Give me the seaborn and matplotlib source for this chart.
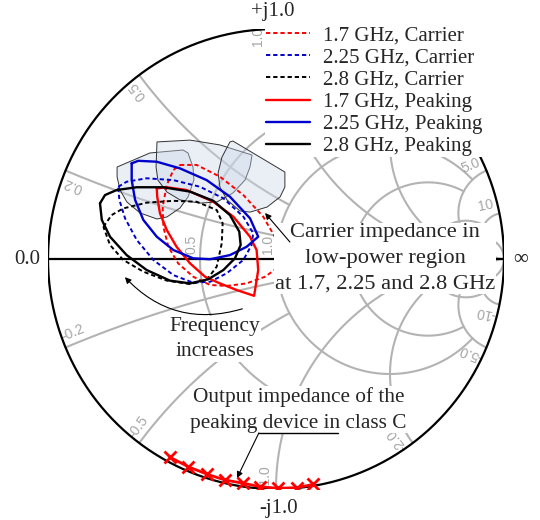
import numpy as np
import pandas as pd
import matplotlib
matplotlib.use('Agg')
import matplotlib.pyplot as plt
import seaborn as sns
from matplotlib.patches import FancyArrowPatch
from matplotlib.lines import Line2D

carrier_17_re = [-0.421, -0.348, -0.246, -0.143, -0.056, 0.003, 0.018, 0.014, -0.048, -0.129,
                 -0.216, -0.289, -0.363, -0.429, -0.472, -0.494, -0.497, -0.479, -0.450]
carrier_17_im = [0.409, 0.409, 0.358, 0.278, 0.184, 0.083, 0.010, -0.033, -0.077, -0.106,
                 -0.117, -0.113, -0.077, -0.019, 0.053, 0.140, 0.227, 0.322, 0.387]

carrier_225_re = [-0.692, -0.655, -0.567, -0.450, -0.333, -0.231, -0.143, -0.100, -0.107, -0.143,
                  -0.216, -0.289, -0.363, -0.450, -0.538, -0.611, -0.662, -0.687]
carrier_225_im = [0.314, 0.336, 0.351, 0.343, 0.314, 0.264, 0.184, 0.112, 0.061, -0.004,
                  -0.062, -0.099, -0.103, -0.070, -0.004, 0.083, 0.177, 0.257]

carrier_28_re = [-0.757, -0.721, -0.670, -0.567, -0.450, -0.348, -0.260, -0.234, -0.238, -0.260,
                 -0.304, -0.377, -0.479, -0.582, -0.670, -0.728]
carrier_28_im = [0.140, 0.191, 0.220, 0.245, 0.253, 0.249, 0.213, 0.155, 0.068, -0.033,
                 -0.091, -0.109, -0.094, -0.055, -0.004, 0.061]

peak_17_re = [-0.523, -0.479, -0.392, -0.275, -0.187, -0.114, -0.085, -0.078, -0.096, -0.172,
              -0.246, -0.311, -0.377, -0.436, -0.479, -0.509, -0.521]
peak_17_im = [0.307, 0.312, 0.300, 0.249, 0.184, 0.097, 0.039, -0.048, -0.160, -0.135,
              -0.106, -0.077, -0.019, 0.053, 0.126, 0.199, 0.271]

peak_225_re = [-0.633, -0.604, -0.523, -0.421, -0.304, -0.202, -0.114, -0.078, -0.129, -0.202,
               -0.289, -0.363, -0.450, -0.523, -0.582, -0.618, -0.633]
peak_225_im = [0.416, 0.427, 0.423, 0.394, 0.343, 0.271, 0.177, 0.097, 0.053, 0.017,
               -0.001, 0.003, 0.039, 0.097, 0.170, 0.257, 0.343]

peak_28_re = [-0.772, -0.750, -0.699, -0.611, -0.494, -0.377, -0.275, -0.202, -0.161, -0.155,
              -0.180, -0.231, -0.297, -0.377, -0.465, -0.567, -0.655, -0.728, -0.764]
peak_28_im = [0.242, 0.278, 0.300, 0.312, 0.312, 0.293, 0.253, 0.191, 0.119, 0.061,
              0.003, -0.048, -0.088, -0.106, -0.094, -0.048, 0.017, 0.097, 0.170]

# low-power carrier impedance regions (1.7, 2.25, 2.8 GHz)
region_a_re = [-0.697, -0.553, -0.408, -0.386, -0.364, -0.360, -0.386, -0.421, -0.478, -0.522,
               -0.596, -0.654, -0.684, -0.697]
region_a_im = [0.400, 0.461, 0.474, 0.461, 0.400, 0.343, 0.270, 0.222, 0.183, 0.174,
               0.200, 0.248, 0.300, 0.357]
region_b_re = [-0.522, -0.377, -0.246, -0.105, -0.114, -0.136, -0.189, -0.259, -0.333, -0.421,
               -0.478, -0.518, -0.526]
region_b_im = [0.509, 0.517, 0.496, 0.452, 0.400, 0.343, 0.287, 0.248, 0.243, 0.257,
               0.291, 0.343, 0.400]
region_c_re = [-0.202, -0.189, -0.101, -0.013, 0.039, 0.039, 0.018, -0.039, -0.114, -0.158,
               -0.215, -0.246, -0.254, -0.237]
region_c_im = [0.509, 0.513, 0.461, 0.409, 0.378, 0.313, 0.270, 0.226, 0.204, 0.209,
               0.257, 0.313, 0.374, 0.443]

# output impedance of the peaking device in class C
classc_re = [-0.465, -0.385, -0.304, -0.224, -0.143, -0.070, 0.010, 0.091, 0.164]
classc_im = [-0.862, -0.903, -0.935, -0.961, -0.975, -0.990, -0.997, -0.994, -0.980]

legend_labels = ['1.7 GHz, Carrier', '2.25 GHz, Carrier', '2.8 GHz, Carrier',
                 '1.7 GHz, Peaking', '2.25 GHz, Peaking', '2.8 GHz, Peaking']

# smith grid: value and how far the arc runs
r_circles = [0.5, 1, 2, 5, 10]
r_limits = [2, 5, 5, 10, np.inf]
r_labelled = [0.5, 1]
x_arcs = [0.2, 0.5, 1, 2, 5, 10]
x_limits = [2, 1, 5, 5, 10, np.inf]
x_labelled = [0.2, 0.5, 1, 5, 10, -0.2, -0.5, -1, -2, -5, -10]


def gam(z):
    return (z - 1) / (z + 1)


def fmt(v):
    return '10' if abs(v) >= 10 else f'{abs(v):.1f}'


def smith_grid(ax):
    grey = '#b3b3b3'
    lab = dict(color='#a6a6a6', fontsize=10, family='Liberation Sans', zorder=1,
               ha='center', va='center')
    for r, lim in zip(r_circles, r_limits):
        a = np.arctan(lim) if np.isfinite(lim) else np.pi / 2 - 1e-4
        g = gam(r + 1j * np.tan(np.linspace(-a, a, 600)))
        ax.plot(g.real, g.imag, color=grey, lw=1.5, zorder=1)
        if r in r_labelled:
            ax.text((r - 1) / (r + 1) - 0.036, 0.062, fmt(r), rotation=90, **lab)
    for x, lim in zip(x_arcs, x_limits):
        b = np.arctan(lim) if np.isfinite(lim) else np.pi / 2 - 1e-4
        rs = np.tan(np.linspace(0, b, 600))
        for s in (1, -1):
            g = gam(rs + 1j * s * x)
            ax.plot(g.real, g.imag, color=grey, lw=1.5, zorder=1)
            if s * x in x_labelled:
                th = np.angle(gam(1j * s * x))
                # the top label sits a bit further round, clear of the legend
                off = 4.6 if s * x == 1 else 2.8
                rad = 0.97 if s * x == 1 else 0.948
                pos = rad * np.exp(1j * (th + s * np.radians(off)))
                txt = fmt(x) if s > 0 else '-' + fmt(x)
                ax.text(pos.real, pos.imag, txt, rotation=np.degrees(th) % 180, **lab)
    t = np.linspace(0, 2 * np.pi, 721)
    ax.plot(np.cos(t), np.sin(t), color='black', lw=1.6, zorder=2)
    ax.plot([-1, 1], [0, 0], color='black', lw=1.6, zorder=2)


def trace(ax, re, im, color, dashed):
    df = pd.DataFrame({'re': re + re[:1], 'im': im + im[:1]})
    sns.lineplot(data=df, x='re', y='im', sort=False, estimator=None, color=color,
                 lw=1.4 if dashed else 1.7, ax=ax, zorder=4)
    line = ax.lines[-1]
    if dashed:
        line.set_linestyle((0, (2.2, 1.5)))
    return line


sns.set_theme(style='white')
plt.rcParams['font.family'] = ['Liberation Serif', 'DejaVu Serif']

fig = plt.figure(figsize=(5.4, 5.2), dpi=100)
ax = fig.add_axes([0.0889, 0.0596, 0.8444, 0.8846])
ax.set_xlim(-1, 1)
ax.set_ylim(-1, 1)
ax.set_axis_off()

smith_grid(ax)

for re, im in [(region_a_re, region_a_im), (region_b_re, region_b_im), (region_c_re, region_c_im)]:
    ax.fill(re, im, facecolor='#cbd7ea', alpha=0.4, edgecolor='none', zorder=3)
    ax.fill(re, im, facecolor='none', edgecolor='#333333', lw=0.7, zorder=3)

handles = []
handles.append(trace(ax, carrier_17_re, carrier_17_im, 'red', True))
handles.append(trace(ax, carrier_225_re, carrier_225_im, '#0000cc', True))
handles.append(trace(ax, carrier_28_re, carrier_28_im, 'black', True))
handles.append(trace(ax, peak_17_re, peak_17_im, 'red', False))
handles.append(trace(ax, peak_225_re, peak_225_im, '#0000cc', False))
handles.append(trace(ax, peak_28_re, peak_28_im, 'black', False))

sns.lineplot(x=classc_re, y=classc_im, sort=False, estimator=None, color='red', lw=2,
             marker='x', markersize=8, markeredgewidth=2, markeredgecolor='red', ax=ax, zorder=5)

leg_handles = []
for h in handles:
    lh = Line2D([], [], color=h.get_color(), lw=h.get_linewidth())
    if h.get_linestyle() != '-':
        lh.set_linestyle((0, (2.2, 1.5)))
    leg_handles.append(lh)
leg = ax.legend(leg_handles, legend_labels, loc='upper left', bbox_to_anchor=(0.490, 0.952),
                bbox_transform=fig.transFigure, fontsize=15, frameon=True, fancybox=False,
                borderpad=0.05, borderaxespad=0, handlelength=2.15, handletextpad=0.6,
                labelspacing=0.12)
leg.get_frame().set_facecolor('white')
leg.get_frame().set_edgecolor('none')
leg.get_frame().set_alpha(1)
leg.set_zorder(6)

box = dict(facecolor='white', edgecolor='none', pad=0.5)
ax.text(0.478, 0.002, 'Carrier impedance in\nlow-power region\nat 1.7, 2.25 and 2.8 GHz',
        ha='center', va='center', fontsize=16.2, linespacing=1.48, bbox=box, zorder=5)
ax.annotate('', xy=(-0.048, 0.200), xytext=(0.061, 0.074),
            arrowprops=dict(arrowstyle='-|>', color='black', lw=0.8, mutation_scale=9,
                            shrinkA=0, shrinkB=0), zorder=5)

ax.text(-0.268, -0.347, 'Frequency\nincreases', ha='center', va='center', fontsize=15.5,
        linespacing=1.45, bbox=box, zorder=5)
ax.add_patch(FancyArrowPatch((-0.136, -0.213), (-0.671, -0.070), connectionstyle='arc3,rad=-0.32',
                             arrowstyle='-|>', mutation_scale=9, color='black', lw=0.8, zorder=5))

ax.text(0.099, -0.655, 'Output impedance of the\npeaking device in class C', ha='center',
        va='center', fontsize=15.3, linespacing=1.5, bbox=box, zorder=5)
ax.plot([-0.075, 0.272], [-0.756, -0.756], color='black', lw=1.0, zorder=5)
ax.annotate('', xy=(-0.171, -0.952), xytext=(-0.075, -0.756),
            arrowprops=dict(arrowstyle='-|>', color='black', lw=0.8, mutation_scale=9,
                            shrinkA=0, shrinkB=0), zorder=5)

ax.text(-0.015, 1.075, '+j1.0', ha='center', va='center', fontsize=15)
ax.text(0.013, -1.085, '-j1.0', ha='center', va='center', fontsize=15)
ax.text(-1.035, 0.0, '0.0', ha='right', va='center', fontsize=15)
ax.text(1.04, 0.0, '\u221e', ha='left', va='center', fontsize=15)

fig.savefig('out.png', dpi=100)
